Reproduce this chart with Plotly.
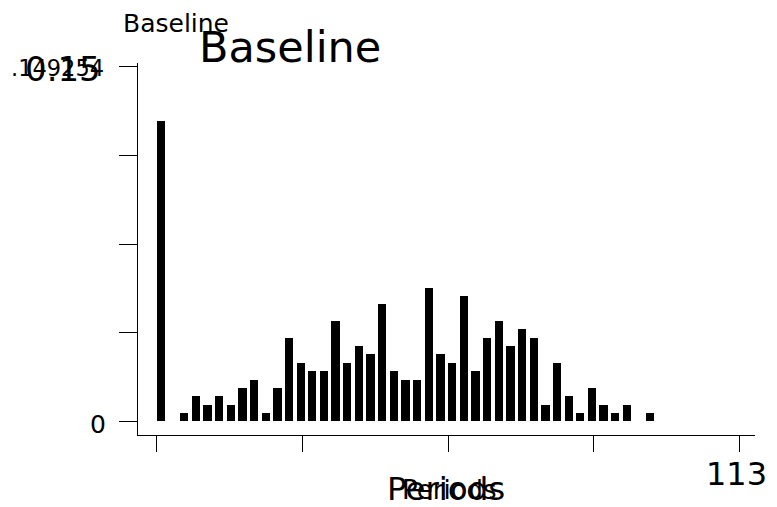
import plotly.graph_objects as go

# ---- data ----
bin_start = [0, 2.26, 4.52, 6.78, 9.04, 11.3, 13.56, 15.82, 18.08, 20.34,
             22.6, 24.86, 27.12, 29.38, 31.64, 33.9, 36.16, 38.42, 40.68, 42.94,
             45.2, 47.46, 49.72, 51.98, 54.24, 56.5, 58.76, 61.02, 63.28, 65.54,
             67.8, 70.06, 72.32, 74.58, 76.84, 79.1, 81.36, 83.62, 85.88, 88.14,
             90.4, 92.66, 94.92]
counts = [36, 0, 1, 3, 2, 3, 2, 4, 5, 1,
          4, 10, 7, 6, 6, 12, 7, 9, 8, 14,
          6, 5, 5, 16, 8, 7, 15, 6, 10, 12,
          9, 11, 10, 2, 7, 3, 1, 4, 2, 1,
          2, 0, 1]
n_obs = sum(counts)
fraction = [c / n_obs for c in counts]

x_ticks = [0, 28.25, 56.5, 84.75, 113]
x_tick_labels = ["", "", "", "", "113"]
y_ticks = [0, 0.0375, 0.075, 0.1125, 0.15]
y_tick_labels = ["0", "", "", "", "0.15"]
y_extra_label = ".149254"
title_text = "Baseline"
x_title = "Periods"

# ---- layout geometry ----
W, H = 777, 507
L, R, T, B = 138, 22, 63, 72
PW, PH = W - L - R, H - T - B
FONT = "DejaVu Sans"


def px(xp):
    return (xp - L) / PW


def py(yp):
    return (H - B - yp) / PH


fig = go.Figure()
fig.add_trace(go.Bar(
    x=bin_start, y=fraction, offset=0, width=1.61,
    marker=dict(color="black", line=dict(width=0)),
    showlegend=False, hoverinfo="x+y",
))

axis_common = dict(showgrid=False, zeroline=False, showline=True,
                   linecolor="black", linewidth=1.3, ticks="outside",
                   tickcolor="black", tickwidth=1.3, showticklabels=False)

fig.update_layout(
    width=W, height=H,
    margin=dict(l=L, r=R, t=T, b=B, pad=0),
    paper_bgcolor="white", plot_bgcolor="white",
    font=dict(family=FONT, color="black"),
    bargap=0,
    xaxis=dict(range=[-3.63, 116.05], tickvals=x_ticks, ticklen=16,
               **axis_common),
    yaxis=dict(range=[-0.005795, 0.15157], tickvals=y_ticks, ticklen=18,
               **axis_common),
)

ann = []


def add_text(text, xp, yp, size, xanchor="center"):
    ann.append(dict(text=text, x=px(xp), y=py(yp), xref="paper", yref="paper",
                    xanchor=xanchor, yanchor="middle", showarrow=False,
                    font=dict(family=FONT, size=size, color="black")))


# titles (two overlaid graphs)
add_text(title_text, 176, 23.3, 25)
add_text(title_text, 290, 46.7, 43)
# y labels
add_text(y_extra_label, 106, 68, 22.5, xanchor="right")
add_text(y_tick_labels[4], 103, 68.5, 34, xanchor="right")
add_text(y_tick_labels[0], 108.3, 424, 25, xanchor="right")
# x labels
add_text(x_tick_labels[4], 736, 474, 32)
add_text(x_title, 446, 489, 32.5)
add_text(x_title, 449, 490, 26)

fig.update_layout(annotations=ann)
fig.write_html("out.html")
